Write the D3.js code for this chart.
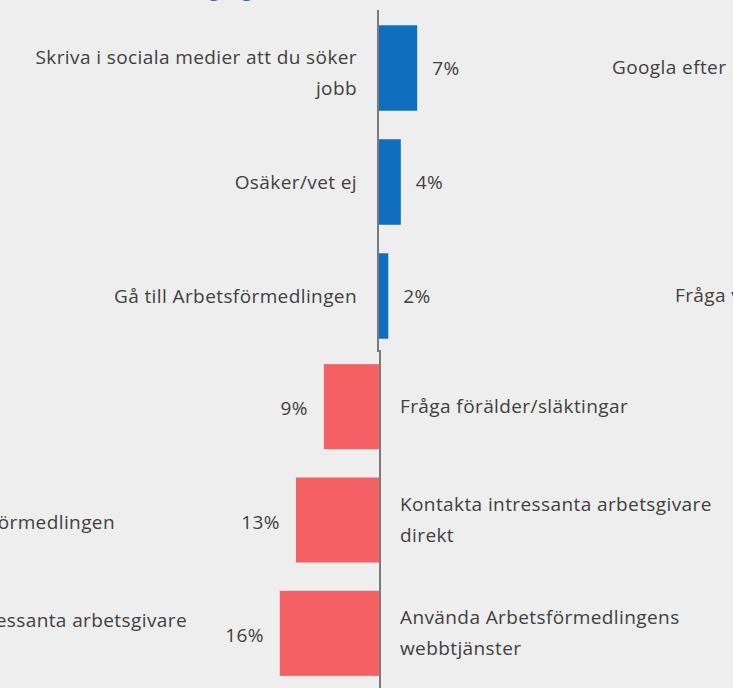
<!DOCTYPE html>
<html><head><meta charset="utf-8">
<script src="https://cdn.jsdelivr.net/npm/d3@7"></script>
<style>
body{margin:0;background:#eeeeee;overflow:hidden;}
svg{display:block;}
text{font-family:"Open Sans",sans-serif;fill:#404040;}
</style></head>
<body><svg id="c" width="733" height="688"></svg>
<script>
// ---- data ----
const titleText = "Första gången";
const topCategories = [["Skriva i sociala medier att du söker", "jobb"], ["Osäker/vet ej"], ["Gå till Arbetsförmedlingen"]];
const topValues = [7.0, 4.0, 1.7];
const bottomCategories = [["Fråga förälder/släktingar"], ["Kontakta intressanta arbetsgivare", "direkt"], ["Använda Arbetsförmedlingens", "webbtjänster"]];
const bottomValues = [8.9, 13.4, 16.0];
const leftCutLabels = ["Gå till Arbetsförmedlingen", "Kontakta intressanta arbetsgivare"];
const rightCutLabels = ["Googla efter lediga jobb", "Fråga vänner"];

// ---- layout ----
const W = 733, H = 688;
const FS = 19, LS = 0.4, LINE = 31;
const svg = d3.select("#c");
svg.append("rect").attr("width", W).attr("height", H).attr("fill", "#eeeeee");
const fmt = v => Math.round(v) + "%";
const styleText = s => s.attr("font-size", FS).attr("letter-spacing", LS);

// title (mostly clipped above the view)
const title = svg.append("text").attr("y", -3).attr("font-size", 18).attr("font-weight", "bold")
  .style("fill", "#1a6fc4").text(titleText);
const pre = title.node().getSubStringLength(0, 7);
title.attr("x", 209 - pre);

// ---- top chart (blue, right of axis) ----
const topAxisX = 378;
const yTop = d3.scaleBand().domain(d3.range(topValues.length)).range([11, 353]).paddingInner(0.25).paddingOuter(0.125);
const xTop = d3.scaleLinear().domain([0, 100]).range([0, 545]);
const gTop = svg.append("g");
gTop.selectAll("rect.bar").data(topValues).join("rect").attr("class", "bar")
  .attr("x", topAxisX + 1).attr("y", (d, i) => yTop(i))
  .attr("width", d => xTop(d)).attr("height", yTop.bandwidth()).attr("fill", "#106ebe");
gTop.selectAll("text.val").data(topValues).join("text").attr("class", "val")
  .attr("x", d => topAxisX + 1 + xTop(d) + 15).attr("y", (d, i) => yTop(i) + yTop.bandwidth() / 2)
  .attr("dy", "0.35em").call(styleText).text(fmt);
topCategories.forEach((lines, i) => {
  const cy = yTop(i) + yTop.bandwidth() / 2 + (lines.length > 1 ? 5 : 0);
  const t = gTop.append("text").attr("text-anchor", "end").call(styleText);
  lines.forEach((l, k) => t.append("tspan").attr("x", 357)
    .attr("y", cy + (k - (lines.length - 1) / 2) * LINE).attr("dy", "0.35em").text(l));
});
gTop.append("line").attr("x1", topAxisX).attr("x2", topAxisX).attr("y1", 10).attr("y2", 352)
  .attr("stroke", "#7a7a7a").attr("stroke-width", 2);

// ---- bottom chart (red, left of axis) ----
const botAxisX = 380;
const yBot = d3.scaleBand().domain(d3.range(bottomValues.length)).range([350, 690]).paddingInner(0.25).paddingOuter(0.125);
const xBot = d3.scaleLinear().domain([0, 100]).range([0, 620]);
const gBot = svg.append("g");
gBot.selectAll("rect.bar").data(bottomValues).join("rect").attr("class", "bar")
  .attr("x", d => botAxisX - 1 - xBot(d)).attr("y", (d, i) => yBot(i))
  .attr("width", d => xBot(d)).attr("height", yBot.bandwidth()).attr("fill", "#f56064");
gBot.selectAll("text.val").data(bottomValues).join("text").attr("class", "val")
  .attr("text-anchor", "end")
  .attr("x", d => botAxisX - 1 - xBot(d) - 16).attr("y", (d, i) => yBot(i) + yBot.bandwidth() / 2 + 2)
  .attr("dy", "0.35em").call(styleText).text(fmt);
bottomCategories.forEach((lines, i) => {
  const cy = yBot(i) + yBot.bandwidth() / 2;
  const t = gBot.append("text").call(styleText);
  lines.forEach((l, k) => t.append("tspan").attr("x", 400)
    .attr("y", cy + (k - (lines.length - 1) / 2) * LINE).attr("dy", "0.35em").text(l));
});
gBot.append("line").attr("x1", botAxisX).attr("x2", botAxisX).attr("y1", 350).attr("y2", 692)
  .attr("stroke", "#7a7a7a").attr("stroke-width", 2);

// ---- neighbouring panels, clipped by the view ----
const leftEnds = [115, 187], leftYs = [522, 620];
leftCutLabels.forEach((l, i) => svg.append("text").attr("text-anchor", "end").attr("x", leftEnds[i])
  .attr("y", leftYs[i]).attr("dy", "0.35em").call(styleText).text(l));
const rightStarts = [612, 675], rightYs = [67, 295];
rightCutLabels.forEach((l, i) => svg.append("text").attr("x", rightStarts[i])
  .attr("y", rightYs[i]).attr("dy", "0.35em").call(styleText).text(l));
</script>
</body></html>
